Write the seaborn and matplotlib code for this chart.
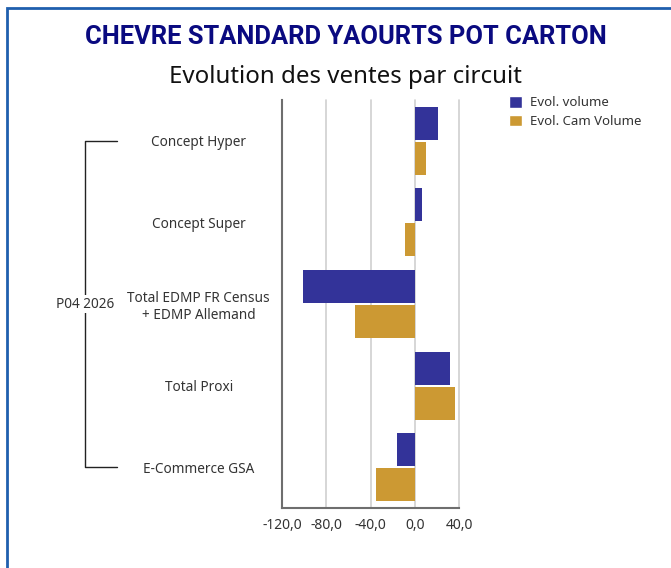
import numpy as np
import pandas as pd
import seaborn as sns
import matplotlib.pyplot as plt
from matplotlib.patches import Rectangle, Patch
from matplotlib.transforms import blended_transform_factory

# data
circuits = ["Concept Hyper", "Concept Super", "Total EDMP FR Census\n+ EDMP Allemand",
            "Total Proxi", "E-Commerce GSA"]
evol_volume = [21, 7, -101, 32, -16]
evol_cam_volume = [10, -9, -54, 36, -35]
series_names = ["Evol. volume", "Evol. Cam Volume"]
x_ticks = [-120, -80, -40, 0, 40]
period_label = "P04 2026"

blue = "#333399"
gold = "#cc9933"

df = pd.DataFrame({"circuit": circuits * 2,
                   "value": evol_volume + evol_cam_volume,
                   "serie": [series_names[0]] * 5 + [series_names[1]] * 5})

sns.set_style("white")
plt.rcParams["font.family"] = ["Noto Sans", "DejaVu Sans"]

fig = plt.figure(figsize=(6.71, 5.68), dpi=100)
ax = fig.add_axes([282 / 671, 1 - 508 / 568, 177 / 671, 408 / 568])

sns.barplot(data=df, y="circuit", x="value", hue="serie", orient="h",
            palette=[blue, gold], saturation=1, width=0.86, gap=0.06, ax=ax,
            legend=False, linewidth=0)

ax.set_xlim(-120, 40)
ax.set_ylim(4.5, -0.5)
ax.set_xticks(x_ticks)
ax.set_xticklabels([f"{v:.1f}".replace(".", ",") for v in x_ticks])
ax.set_xlabel("")
ax.set_ylabel("")
ax.xaxis.grid(True, color="#d0d0d0", linewidth=1.2)
for gl in ax.get_xgridlines():
    gl.set_clip_on(False)
ax.set_axisbelow(True)
for s in ["top", "right"]:
    ax.spines[s].set_visible(False)
for s in ["left", "bottom"]:
    ax.spines[s].set_color("#6e6e6e")
    ax.spines[s].set_linewidth(1.5)
ax.tick_params(axis="x", length=0, labelsize=10, labelcolor="#333333", pad=7)
ax.tick_params(axis="y", length=0, labelsize=9.8, labelcolor="#333333", pad=60)
for lbl in ax.get_yticklabels():
    lbl.set_ha("center")
    lbl.set_multialignment("center")

# bracket for the period group
tr = blended_transform_factory(fig.transFigure, ax.transData)
ax.plot([117 / 671, 85 / 671, 85 / 671, 117 / 671], [0, 0, 4, 4], color="#222222",
        linewidth=1, transform=tr, clip_on=False)
ax.text(85 / 671, 2, period_label, transform=tr, ha="center", va="center",
        fontsize=9.8, color="#333333",
        bbox=dict(facecolor="white", edgecolor="none", pad=1))

# titles
fig.text(0.515, 1 - 37 / 568, "CHEVRE STANDARD YAOURTS POT CARTON", ha="center", va="center",
         fontsize=18.4, fontweight="bold", color="#0a0a80", family=["Roboto", "DejaVu Sans"])
fig.text(0.515, 1 - 77 / 568, "Evolution des ventes par circuit", ha="center", va="center",
         fontsize=17.3, color="#111111")

# legend
handles = [Patch(facecolor=blue, label=series_names[0]), Patch(facecolor=gold, label=series_names[1])]
fig.legend(handles=handles, loc="upper left", bbox_to_anchor=(497 / 671, 1 - 84 / 568),
           frameon=False, fontsize=9.5, handlelength=1.0, handleheight=1.0,
           handletextpad=0.6, labelspacing=0.4, labelcolor="#333333")

# outer border
fig.patches.append(Rectangle((7 / 671, -0.1), 1.2, 1.1 - 8 / 568, transform=fig.transFigure,
                             fill=False, edgecolor="#1f5fae", linewidth=2, clip_on=False))

fig.savefig("out.png", dpi=100)
